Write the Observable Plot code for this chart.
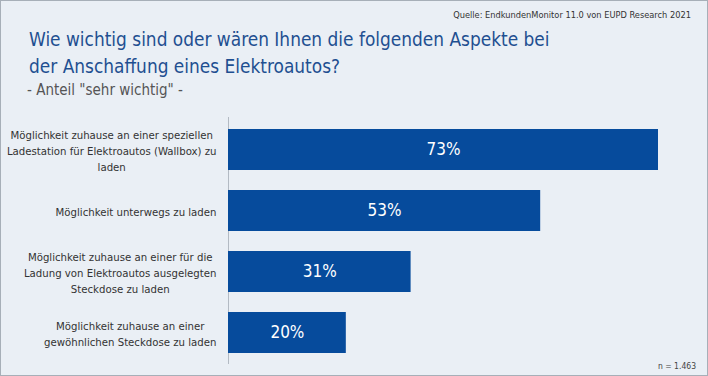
<!DOCTYPE html>
<html><head><meta charset="utf-8">
<script src="https://cdn.jsdelivr.net/npm/d3@7"></script>
<script src="https://cdn.jsdelivr.net/npm/@observablehq/plot@0.6"></script>
<style>
body{margin:0;background:#eaeff5;}
#wrap{position:relative;width:708px;height:376px;background:#eaeff5;overflow:hidden;font-family:"Liberation Sans Narrow","DejaVu Sans Condensed",sans-serif;}
#frame{position:absolute;left:0;top:0;width:708px;height:376px;box-sizing:border-box;border:1px solid #a7afb8;pointer-events:none;z-index:5;}
#source{position:absolute;right:17px;top:9px;font-size:9.2px;color:#333;white-space:nowrap;}
#title{position:absolute;left:29px;top:25.5px;font-size:18.9px;color:#1f4f91;line-height:27px;white-space:nowrap;}
#subtitle{position:absolute;left:27px;top:81px;font-size:15px;color:#555;white-space:nowrap;}
#n{position:absolute;right:12px;top:361px;font-size:8.5px;color:#444;}
#chart{position:absolute;left:0;top:110px;}
</style></head>
<body>
<div id="wrap">
<div id="source">Quelle: EndkundenMonitor 11.0 von EUPD Research 2021</div>
<div id="title">Wie wichtig sind oder wären Ihnen die folgenden Aspekte bei<br>der Anschaffung eines Elektroautos?</div>
<div id="subtitle">- Anteil "sehr wichtig" -</div>
<div id="chart"></div>
<div id="n">n = 1.463</div>
<div id="frame"></div>
</div>
<script>
const categories = [
  "Möglichkeit zuhause an einer speziellen\nLadestation für Elektroautos (Wallbox) zu\nladen",
  "Möglichkeit unterwegs zu laden",
  "Möglichkeit zuhause an einer für die\nLadung von Elektroautos ausgelegten\nSteckdose zu laden",
  "Möglichkeit zuhause an einer\ngewöhnlichen Steckdose zu laden"
];
const values = [73, 53, 31, 20];

const data = categories.map((c, i) => ({cat: c, value: values[i]}));
const FONT = '"Liberation Sans Narrow","DejaVu Sans Condensed",sans-serif';
const LABEL_SIZE = 11.3;
const ctx = document.createElement("canvas").getContext("2d");
ctx.font = `${LABEL_SIZE}px ${FONT}`;
const widest = c => Math.max(...c.split("\n").map(l => ctx.measureText(l).width));

const labelMarks = data.map(d => Plot.text([d], {
  x: () => 0, y: "cat", text: "cat",
  textAnchor: "middle", dx: -12 - widest(d.cat) / 2,
  lineHeight: 16 / LABEL_SIZE, fontSize: LABEL_SIZE, fill: "#333"
}));

const chart = Plot.plot({
  width: 708, height: 266,
  marginLeft: 228, marginRight: 50, marginTop: 7, marginBottom: 12,
  style: {background: "transparent", fontFamily: FONT, overflow: "visible"},
  x: {domain: [0, 73], axis: null},
  y: {domain: categories, axis: null, paddingInner: 0.33, paddingOuter: 0.18},
  marks: [
    Plot.ruleX([0], {stroke: "#b3bac3"}),
    Plot.barX(data, {x: "value", y: "cat", fill: "#064b9c"}),
    Plot.text(data, {x: d => d.value / 2, y: "cat", text: d => d.value + "%", fill: "white", fontSize: 17}),
    ...labelMarks
  ]
});
document.getElementById("chart").append(chart);
</script>
</body></html>
